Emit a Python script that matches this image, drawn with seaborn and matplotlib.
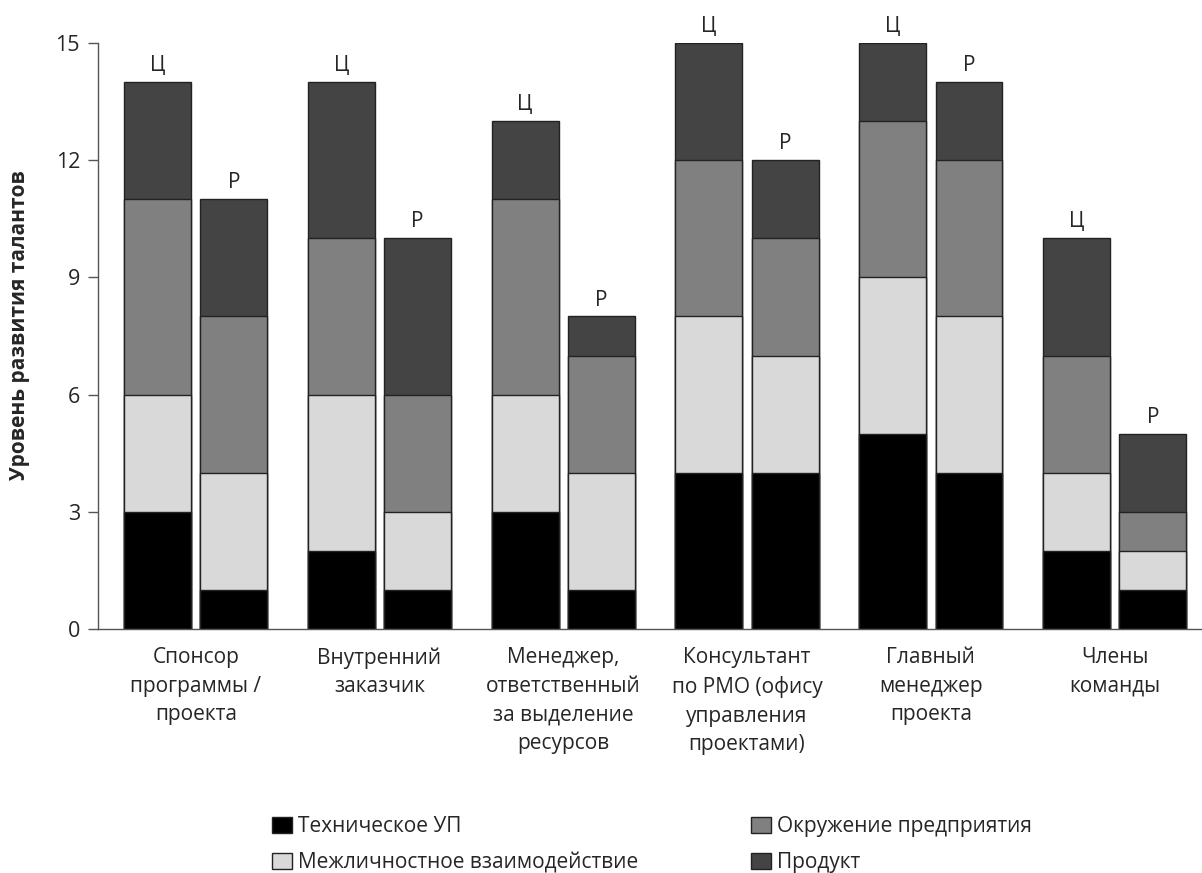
import numpy as np
import pandas as pd
import matplotlib
matplotlib.use("Agg")
import matplotlib.pyplot as plt
from matplotlib.patches import Patch
import seaborn as sns

# Roles (x categories)
categories = [
    "Спонсор\nпрограммы /\nпроекта",
    "Внутренний\nзаказчик",
    "Менеджер,\nответственный\nза выделение\nресурсов",
    "Консультант\nпо PMO (офису\nуправления\nпроектами)",
    "Главный\nменеджер\nпроекта",
    "Члены\nкоманды",
]
kinds = ["Ц", "Р"]  # target / actual level

# Component scores per role: target (Ц) and actual (Р)
tech_target = [3, 2, 3, 4, 5, 2]
tech_actual = [1, 1, 1, 4, 4, 1]
inter_target = [3, 4, 3, 4, 4, 2]
inter_actual = [3, 2, 3, 3, 4, 1]
env_target = [5, 4, 5, 4, 4, 3]
env_actual = [4, 3, 3, 3, 4, 1]
prod_target = [3, 4, 2, 3, 2, 3]
prod_actual = [3, 4, 1, 2, 2, 2]

series_names = ["Техническое УП", "Межличностное взаимодействие",
                "Окружение предприятия", "Продукт"]
series_colors = ["#000000", "#d9d9d9", "#808080", "#444444"]
y_ticks = [0, 3, 6, 9, 12, 15]
y_label = "Уровень развития талантов"

rows = []
for i, cat in enumerate(categories):
    rows.append(dict(cat=cat, kind="Ц", tech=tech_target[i], inter=inter_target[i],
                     env=env_target[i], prod=prod_target[i]))
    rows.append(dict(cat=cat, kind="Р", tech=tech_actual[i], inter=inter_actual[i],
                     env=env_actual[i], prod=prod_actual[i]))
df = pd.DataFrame(rows)
df["c1"] = df["tech"]
df["c2"] = df["c1"] + df["inter"]
df["c3"] = df["c2"] + df["env"]
df["c4"] = df["c3"] + df["prod"]

sns.set_style("ticks")
plt.rcParams["font.family"] = ["Open Sans", "DejaVu Sans"]

fig = plt.figure(figsize=(12.02, 8.73), dpi=100)
ax = fig.add_axes([98 / 1202, 1 - 629 / 873, (1202 - 98) / 1202, (629 - 43) / 873])

# Stacked bars: draw cumulative totals from the top layer down
layers = [("c4", series_colors[3]), ("c3", series_colors[2]),
          ("c2", series_colors[1]), ("c1", series_colors[0])]
for col, color in layers:
    sns.barplot(data=df, x="cat", y=col, hue="kind", hue_order=kinds,
                order=categories, palette=[color, color], width=0.832, gap=0.124,
                edgecolor="#222222", linewidth=1.0, legend=False, ax=ax,
                errorbar=None, saturation=1)

# Ц / Р marks above each bar (first two containers hold the full totals)
for kind, cont in zip(kinds, ax.containers[:2]):
    for patch in cont:
        ax.text(patch.get_x() + patch.get_width() / 2, patch.get_height() + 0.15,
                kind, ha="center", va="bottom", fontsize=15, clip_on=False)

ax.set_ylim(0, 15)
ax.set_xlim(-0.532, 5.476)
ax.set_yticks(y_ticks)
ax.set_xlabel("")
ax.set_ylabel("")
ax.tick_params(axis="y", length=7, width=1, color="#555555", labelsize=15.5, pad=6)
ax.tick_params(axis="x", length=0, labelsize=15, pad=13)
for lbl in ax.get_xticklabels():
    lbl.set_linespacing(1.47)
for s in ["top", "right"]:
    ax.spines[s].set_visible(False)
for s in ["left", "bottom"]:
    ax.spines[s].set_color("#555555")
    ax.spines[s].set_linewidth(1.0)

fig.text(20 / 1202, 1 - 325 / 873, y_label, rotation=90, ha="center", va="center",
         fontsize=15, fontweight="bold")

handles = [Patch(facecolor=c, edgecolor="#222222", linewidth=1.0) for c in series_colors]
fig.legend(handles, series_names, ncol=2, loc="upper left",
           bbox_to_anchor=(272 / 1202, 1 - 816 / 873), frameon=False, fontsize=15,
           handlelength=0.96, handleheight=0.82, handletextpad=0.29,
           columnspacing=5.4, labelspacing=0.74, borderpad=0, borderaxespad=0)

fig.savefig("out.png", dpi=100)
